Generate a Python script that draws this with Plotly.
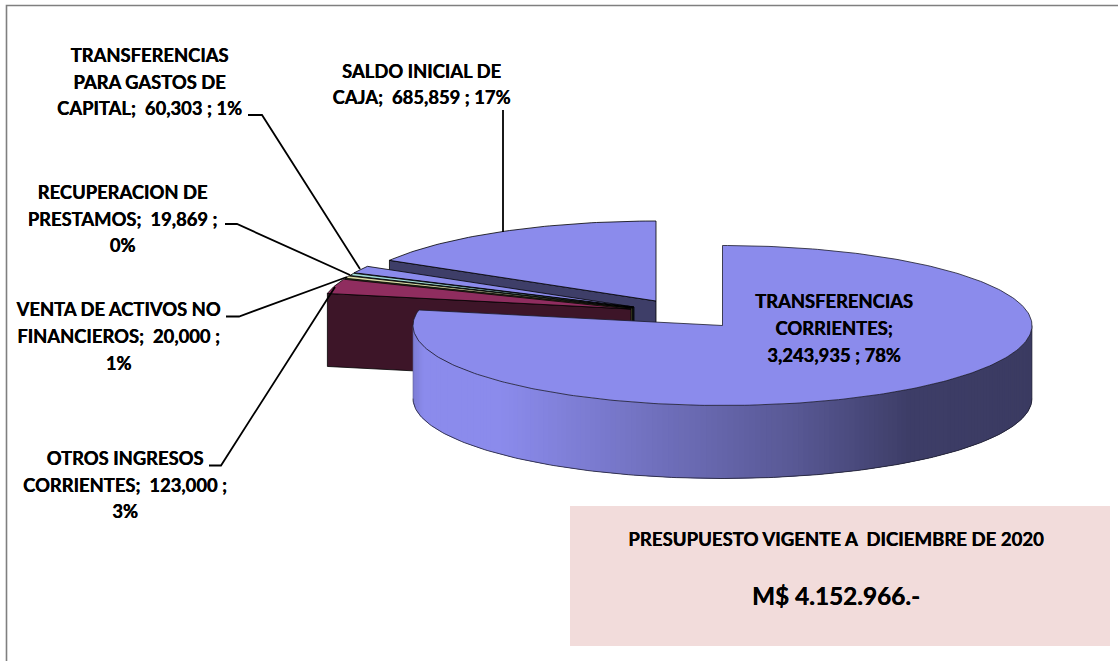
import numpy as np
import plotly.graph_objects as go

# ---- data -------------------------------------------------------------
categories = ["TRANSFERENCIAS CORRIENTES", "OTROS INGRESOS CORRIENTES",
              "VENTA DE ACTIVOS NO FINANCIEROS", "RECUPERACION DE PRESTAMOS",
              "TRANSFERENCIAS PARA GASTOS DE CAPITAL", "SALDO INICIAL DE CAJA"]
values = [3243935, 123000, 20000, 19869, 60303, 685859]
label_lines = [
    ["TRANSFERENCIAS", "CORRIENTES;", "3,243,935 ; 78%"],
    ["OTROS INGRESOS", "CORRIENTES;  123,000 ;", "3%"],
    ["VENTA DE ACTIVOS NO", "FINANCIEROS;  20,000 ;", "1%"],
    ["RECUPERACION DE", "PRESTAMOS;  19,869 ;", "0%"],
    ["TRANSFERENCIAS", "PARA GASTOS DE", "CAPITAL;  60,303 ; 1%"],
    ["SALDO INICIAL DE", "CAJA;  685,859 ; 17%"],
]
box_title = "PRESUPUESTO VIGENTE A  DICIEMBRE DE 2020"
box_total = "M$ 4.152.966.-"

# ---- style / layout ---------------------------------------------------
W, H = 1118, 661
RX, RY, DEPTH = 309.5, 80, 73
centers = [(722.5, 325.5), (631, 309), (632.5, 308), (633.5, 307.5), (634, 307), (656, 301)]
top_colors = ["#8B8BEC", "#8F2D5F", "#DADBA4", "#A3DDD9", "#8B8BEC", "#8B8BEC"]
side_colors = ["#3E3E68", "#3D1528", "#4E4E2C", "#2B4B4A", "#3E3E68", "#3E3E68"]
label_pos = [(834, [303.5, 330.5, 357.5]), (125, [460.5, 487, 513.5]), (118.5, [311.5, 338.5, 365.5]),
             (122.5, [194.5, 221.5, 247.5]), (149.5, [57.5, 84.5, 110.5]), (421.5, [73.5, 99.5])]
leaders = [None,
           [(209, 465.5), (221, 465.5), (335, 287)],
           [(226, 316.5), (239, 316.5), (347, 277)],
           [(225, 224), (237, 224), (350, 275)],
           [(248, 115), (262, 115), (360, 269)],
           [(503, 110), (503, 232)]]
grad_x = [413, 424, 505, 650, 800, 910, 1032]
grad_c = [(0x7C, 0x7C, 0xD4), (0x8B, 0x8B, 0xEC), (0x8B, 0x8B, 0xEC), (0x72, 0x72, 0xC0),
          (0x58, 0x58, 0x94), (0x3E, 0x3E, 0x68), (0x3B, 0x3B, 0x62)]
FONT = "Lato"
FS = 18.4
BOLDER = "0.35px 0 0 #000000"

# ---- geometry derived from the values ---------------------------------
fr = np.array(values, float) / np.sum(values)
edges = np.concatenate([[0], np.cumsum(fr)]) * 2 * np.pi


def arc(c, a, b, n=200):
    t = np.linspace(a, b, n)
    return c[0] + RX * np.sin(t), c[1] - RY * np.cos(t)


fig = go.Figure()


def poly(x, y, fill, line="#000000", w=0.8):
    fig.add_trace(go.Scatter(x=list(x), y=list(y), mode="lines", fill="toself", fillcolor=fill,
                             line=dict(color=line, width=w), hoverinfo="skip", showlegend=False))


def path(x, y, color="#000000", w=1.0):
    fig.add_trace(go.Scatter(x=list(x), y=list(y), mode="lines", line=dict(color=color, width=w),
                             hoverinfo="skip", showlegend=False))


def text(x, y, s, size):
    fig.add_trace(go.Scatter(x=x, y=y, mode="text", text=s, textposition="middle center",
                             textfont=dict(family=FONT, size=size, color="#000000", weight="bold", shadow=BOLDER),
                             hoverinfo="skip", showlegend=False))


# frame
path([6.5, 6.5, W], [H, 5.5, 5.5], "#7F7F7F", 1.6)

# total box (behind text)
fig.add_shape(type="rect", x0=570, x1=1110, y0=506, y1=646, fillcolor="#F2DCDB", line_width=0, layer="below")

# back-to-front: saldo, capital, recuperacion, venta, otros, then main slice
for i in [5, 4, 3, 2, 1]:
    c, a, b = centers[i], edges[i], edges[i + 1]
    ex, ey = arc(c, a, a, 1)
    poly([c[0], ex[0], ex[0], c[0], c[0]], [c[1], ey[0], ey[0] + DEPTH, c[1] + DEPTH, c[1]], side_colors[i])
    ax, ay = arc(c, a, b, 60)
    poly([c[0], *ax, c[0]], [c[1], *ay, c[1]], top_colors[i])

# main slice wall with left-to-right shading
c = centers[0]
ts = np.concatenate([np.linspace(0.5 * np.pi, np.pi, 90)[:-1], np.linspace(np.pi, 1.5 * np.pi, 90)])
rs = [np.interp(c[0] + RX * np.sin(ts), grad_x, [g[k] for g in grad_c]) for k in range(3)]
for j in range(len(ts) - 1):
    t0, t1 = ts[j], ts[min(j + 3, len(ts) - 1)]
    ax, ay = arc(c, t0, t1, 5)
    col = "rgb(%d,%d,%d)" % (rs[0][j], rs[1][j], rs[2][j])
    poly([*ax, *ax[::-1], ax[0]], [*ay, *(ay[::-1] + DEPTH), ay[0]], col, col, 0)
ax, ay = arc(c, 0.5 * np.pi, 1.5 * np.pi)
path(ax, ay + DEPTH, "#202030", 0.8)
path([ax[0], ax[0]], [ay[0], ay[0] + DEPTH], "#202030", 0.6)
path([ax[-1], ax[-1]], [ay[-1], ay[-1] + DEPTH], "#5A5A90", 0.6)

# main slice top
ax, ay = arc(c, edges[0], edges[1], 300)
poly([c[0], *ax, c[0]], [c[1], *ay, c[1]], top_colors[0], "#1A1A2A", 0.8)

# leader lines
for pts in leaders:
    if pts:
        path([p[0] for p in pts], [p[1] for p in pts], "#000000", 1.8)

# labels (one real text per line so line spacing follows the original)
for lines, (lx, lys) in zip(label_lines, label_pos):
    text([lx] * len(lines), lys, lines, FS)
text([836], [541.5], [box_title], 18.6)
text([836], [598.5], [box_total], 24.3)

fig.update_layout(width=W, height=H, margin=dict(l=0, r=0, t=0, b=0), paper_bgcolor="white", plot_bgcolor="white",
                  showlegend=False,
                  xaxis=dict(range=[0, W], visible=False, fixedrange=True),
                  yaxis=dict(range=[H, 0], visible=False, fixedrange=True))
fig.write_html("out.html", config=dict(displayModeBar=False),
               post_script="document.body.style.margin='0';document.body.style.overflow='hidden';")
